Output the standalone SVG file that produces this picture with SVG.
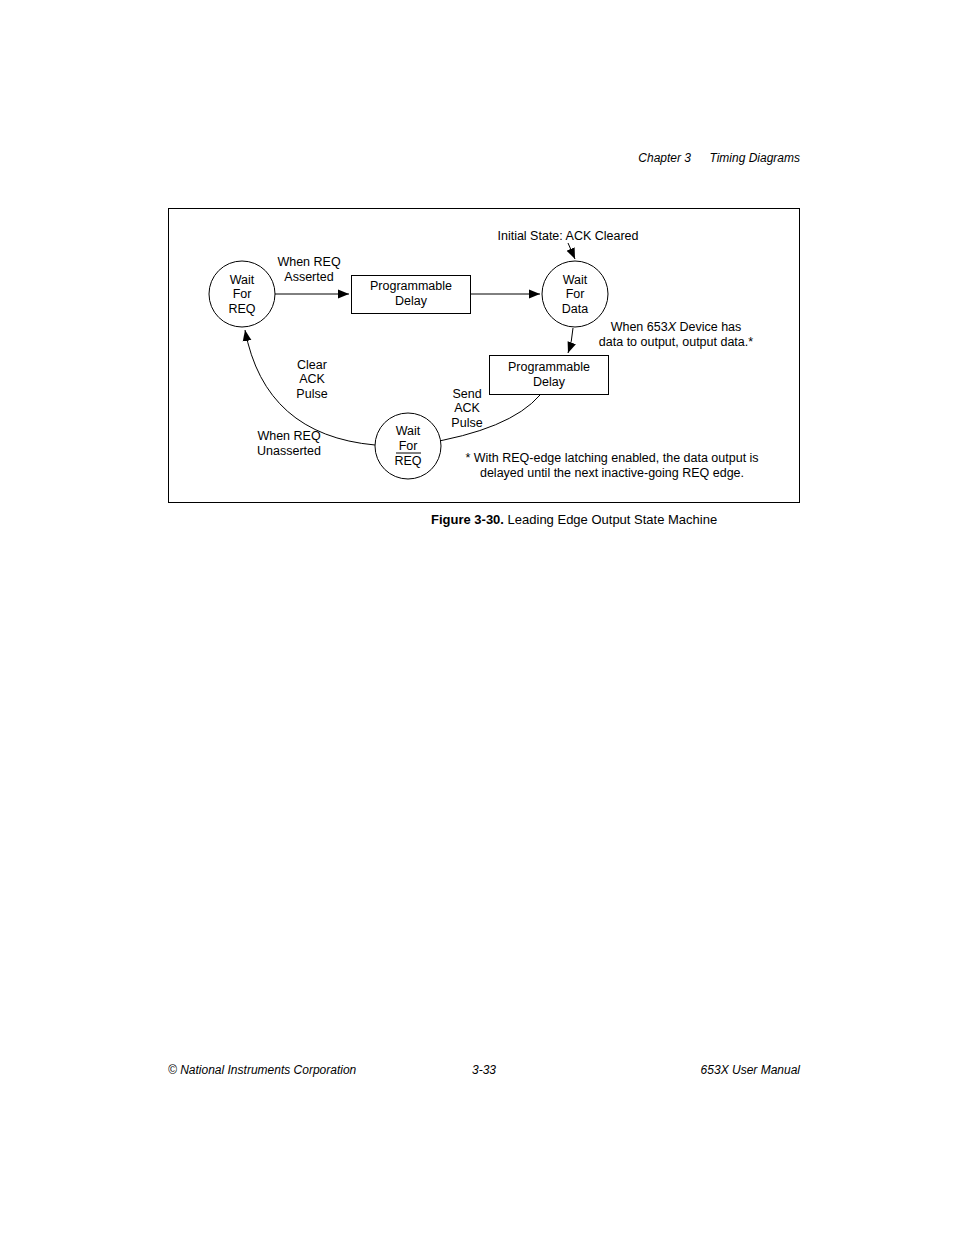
<svg xmlns="http://www.w3.org/2000/svg" width="954" height="1235" viewBox="0 0 954 1235">
<style>
text{font-family:"Liberation Sans",Arial,sans-serif;font-size:12.5px;fill:#000}
.c{text-anchor:middle}
.n{fill:#fff;stroke:#000;stroke-width:1}
.e{fill:none;stroke:#000;stroke-width:1}
.h{font-family:"Liberation Sans",Arial,sans-serif;font-size:12px;font-style:italic}
</style>
<defs><marker id="a" viewBox="0 0 10 10" refX="10" refY="5" markerWidth="11" markerHeight="11" markerUnits="userSpaceOnUse" orient="auto"><path d="M0,1 L10,5 L0,9 z" fill="#000"/></marker></defs>
<rect width="954" height="1235" fill="#fff"/>
<text class="h" x="691" y="162" text-anchor="end">Chapter 3</text>
<text class="h" x="800" y="162" text-anchor="end">Timing Diagrams</text>
<rect x="168.5" y="208.5" width="631" height="294" class="e"/>
<g id="connectors">
<path class="e" d="M275,294 H349" marker-end="url(#a)"/>
<path class="e" d="M471,294 H540" marker-end="url(#a)"/>
<path class="e" d="M568,243 L575,259" marker-end="url(#a)"/>
<path class="e" d="M573,328 Q572,342 568,353" marker-end="url(#a)"/>
<path class="e" d="M540,395 Q510,430 422,444" marker-end="url(#a)"/>
<path class="e" d="M375,445 Q265,435 245,330" marker-end="url(#a)"/>
</g>
<g id="n1"><circle class="n" cx="242" cy="294" r="33"/><text class="c" x="242" y="284">Wait</text><text class="c" x="242" y="298">For</text><text class="c" x="242" y="313">REQ</text></g>
<g id="n2"><rect class="n" x="351.5" y="275.5" width="119" height="38"/><text class="c" x="411" y="290">Programmable</text><text class="c" x="411" y="305">Delay</text></g>
<g id="n3"><circle class="n" cx="575" cy="294" r="33"/><text class="c" x="575" y="284">Wait</text><text class="c" x="575" y="298">For</text><text class="c" x="575" y="313">Data</text></g>
<g id="n4"><rect class="n" x="489.5" y="355.5" width="119" height="39"/><text class="c" x="549" y="371">Programmable</text><text class="c" x="549" y="386">Delay</text></g>
<g id="n5"><circle class="n" cx="408" cy="446" r="33"/><text class="c" x="408" y="435">Wait</text><text class="c" x="408" y="450">For</text><text class="c" x="408" y="465">REQ</text><line x1="396" y1="453" x2="421" y2="453" stroke="#000" stroke-width="1"/></g>
<g id="labels">
<text class="c" x="568" y="240">Initial State: ACK Cleared</text>
<text class="c" x="309" y="266">When REQ</text><text class="c" x="309" y="281">Asserted</text>
<text class="c" x="676" y="331">When 653<tspan font-style="italic">X</tspan> Device has</text>
<text class="c" x="676" y="346">data to output, output data.*</text>
<text class="c" x="312" y="369">Clear</text><text class="c" x="312" y="383">ACK</text><text class="c" x="312" y="398">Pulse</text>
<text class="c" x="467" y="398">Send</text><text class="c" x="467" y="412">ACK</text><text class="c" x="467" y="427">Pulse</text>
<text class="c" x="289" y="440">When REQ</text><text class="c" x="289" y="455">Unasserted</text>
<text class="c" x="612" y="462">* With REQ-edge latching enabled, the data output is</text>
<text class="c" x="612" y="477">delayed until the next inactive-going REQ edge.</text>
</g>
<text x="431" y="524" style="font-family:'Liberation Sans Narrow','Liberation Sans',sans-serif;font-size:13px"><tspan font-weight="bold">Figure 3-30.</tspan>  Leading Edge Output State Machine</text>
<text class="h" x="168" y="1074">© National Instruments Corporation</text>
<text class="h" x="484" y="1074" text-anchor="middle" font-style="normal">3-33</text>
<text class="h" x="800" y="1074" text-anchor="end">653X User Manual</text>
</svg>
